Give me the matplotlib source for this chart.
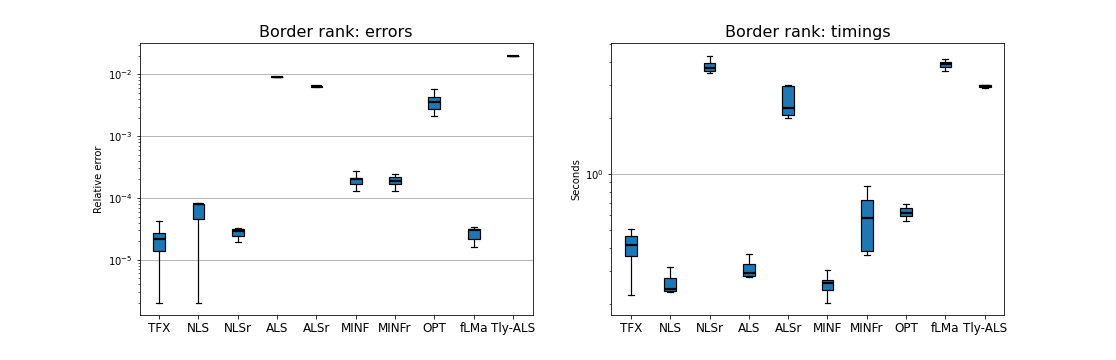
import matplotlib
matplotlib.use("Agg")
import matplotlib.pyplot as plt

methods = ["TFX", "NLS", "NLSr", "ALS", "ALSr", "MINF", "MINFr", "OPT", "fLMa", "Tly-ALS"]

# Relative error statistics (whisker low, Q1, median, Q3, whisker high)
err_whislo = [2.02e-6, 2.02e-6, 1.95e-5, 8.95e-3, 6.25e-3, 1.30e-4, 1.30e-4, 2.10e-3, 1.62e-5, 1.98e-2]
err_q1     = [1.40e-5, 4.58e-5, 2.44e-5, 9.00e-3, 6.30e-3, 1.68e-4, 1.70e-4, 2.72e-3, 2.18e-5, 1.99e-2]
err_med    = [2.15e-5, 7.90e-5, 2.95e-5, 9.06e-3, 6.40e-3, 2.05e-4, 1.86e-4, 3.53e-3, 3.08e-5, 2.00e-2]
err_q3     = [2.72e-5, 8.00e-5, 3.12e-5, 9.10e-3, 6.55e-3, 2.10e-4, 2.18e-4, 4.37e-3, 3.17e-5, 2.01e-2]
err_whishi = [4.20e-5, 8.30e-5, 3.24e-5, 9.15e-3, 6.60e-3, 2.69e-4, 2.44e-4, 5.73e-3, 3.36e-5, 2.02e-2]

# Timing statistics in seconds
t_whislo = [0.224, 0.232, 3.49, 0.279, 2.00, 0.2025, 0.367, 0.559, 3.58, 2.91]
t_q1     = [0.362, 0.235, 3.58, 0.283, 2.08, 0.238, 0.386, 0.594, 3.76, 2.93]
t_med    = [0.412, 0.240, 3.70, 0.291, 2.27, 0.258, 0.575, 0.615, 3.90, 2.96]
t_q3     = [0.462, 0.275, 3.94, 0.328, 2.96, 0.269, 0.722, 0.656, 4.00, 2.99]
t_whishi = [0.506, 0.315, 4.33, 0.371, 3.01, 0.305, 0.862, 0.690, 4.15, 3.01]


def make_stats(lo, q1, med, q3, hi):
    return [dict(label=m, whislo=a, q1=b, med=c, q3=d, whishi=e, fliers=[])
            for m, a, b, c, d, e in zip(methods, lo, q1, med, q3, hi)]


fig, axes = plt.subplots(1, 2, figsize=(15.5, 5), dpi=72)
fig.subplots_adjust(left=0.125, right=0.9, bottom=0.125, top=0.88, wspace=0.2)

panels = [
    (axes[0], make_stats(err_whislo, err_q1, err_med, err_q3, err_whishi),
     "Border rank: errors", "Relative error"),
    (axes[1], make_stats(t_whislo, t_q1, t_med, t_q3, t_whishi),
     "Border rank: timings", "Seconds"),
]

for ax, stats, title, ylabel in panels:
    ax.bxp(stats, widths=0.3, patch_artist=True, showfliers=False,
           boxprops=dict(facecolor="#1f77b4", edgecolor="black", linewidth=1.2),
           medianprops=dict(color="black", linewidth=2.2),
           whiskerprops=dict(color="black", linewidth=1.2),
           capprops=dict(color="black", linewidth=1.2))
    ax.set_yscale("log")
    ax.set_title(title, fontsize=16)
    ax.set_ylabel(ylabel, fontsize=10)
    ax.tick_params(axis="x", labelsize=12)
    ax.set_axisbelow(True)
    ax.yaxis.grid(True, which="major", color="#b0b0b0", linewidth=0.9)

fig.savefig("out.png", dpi=72)
